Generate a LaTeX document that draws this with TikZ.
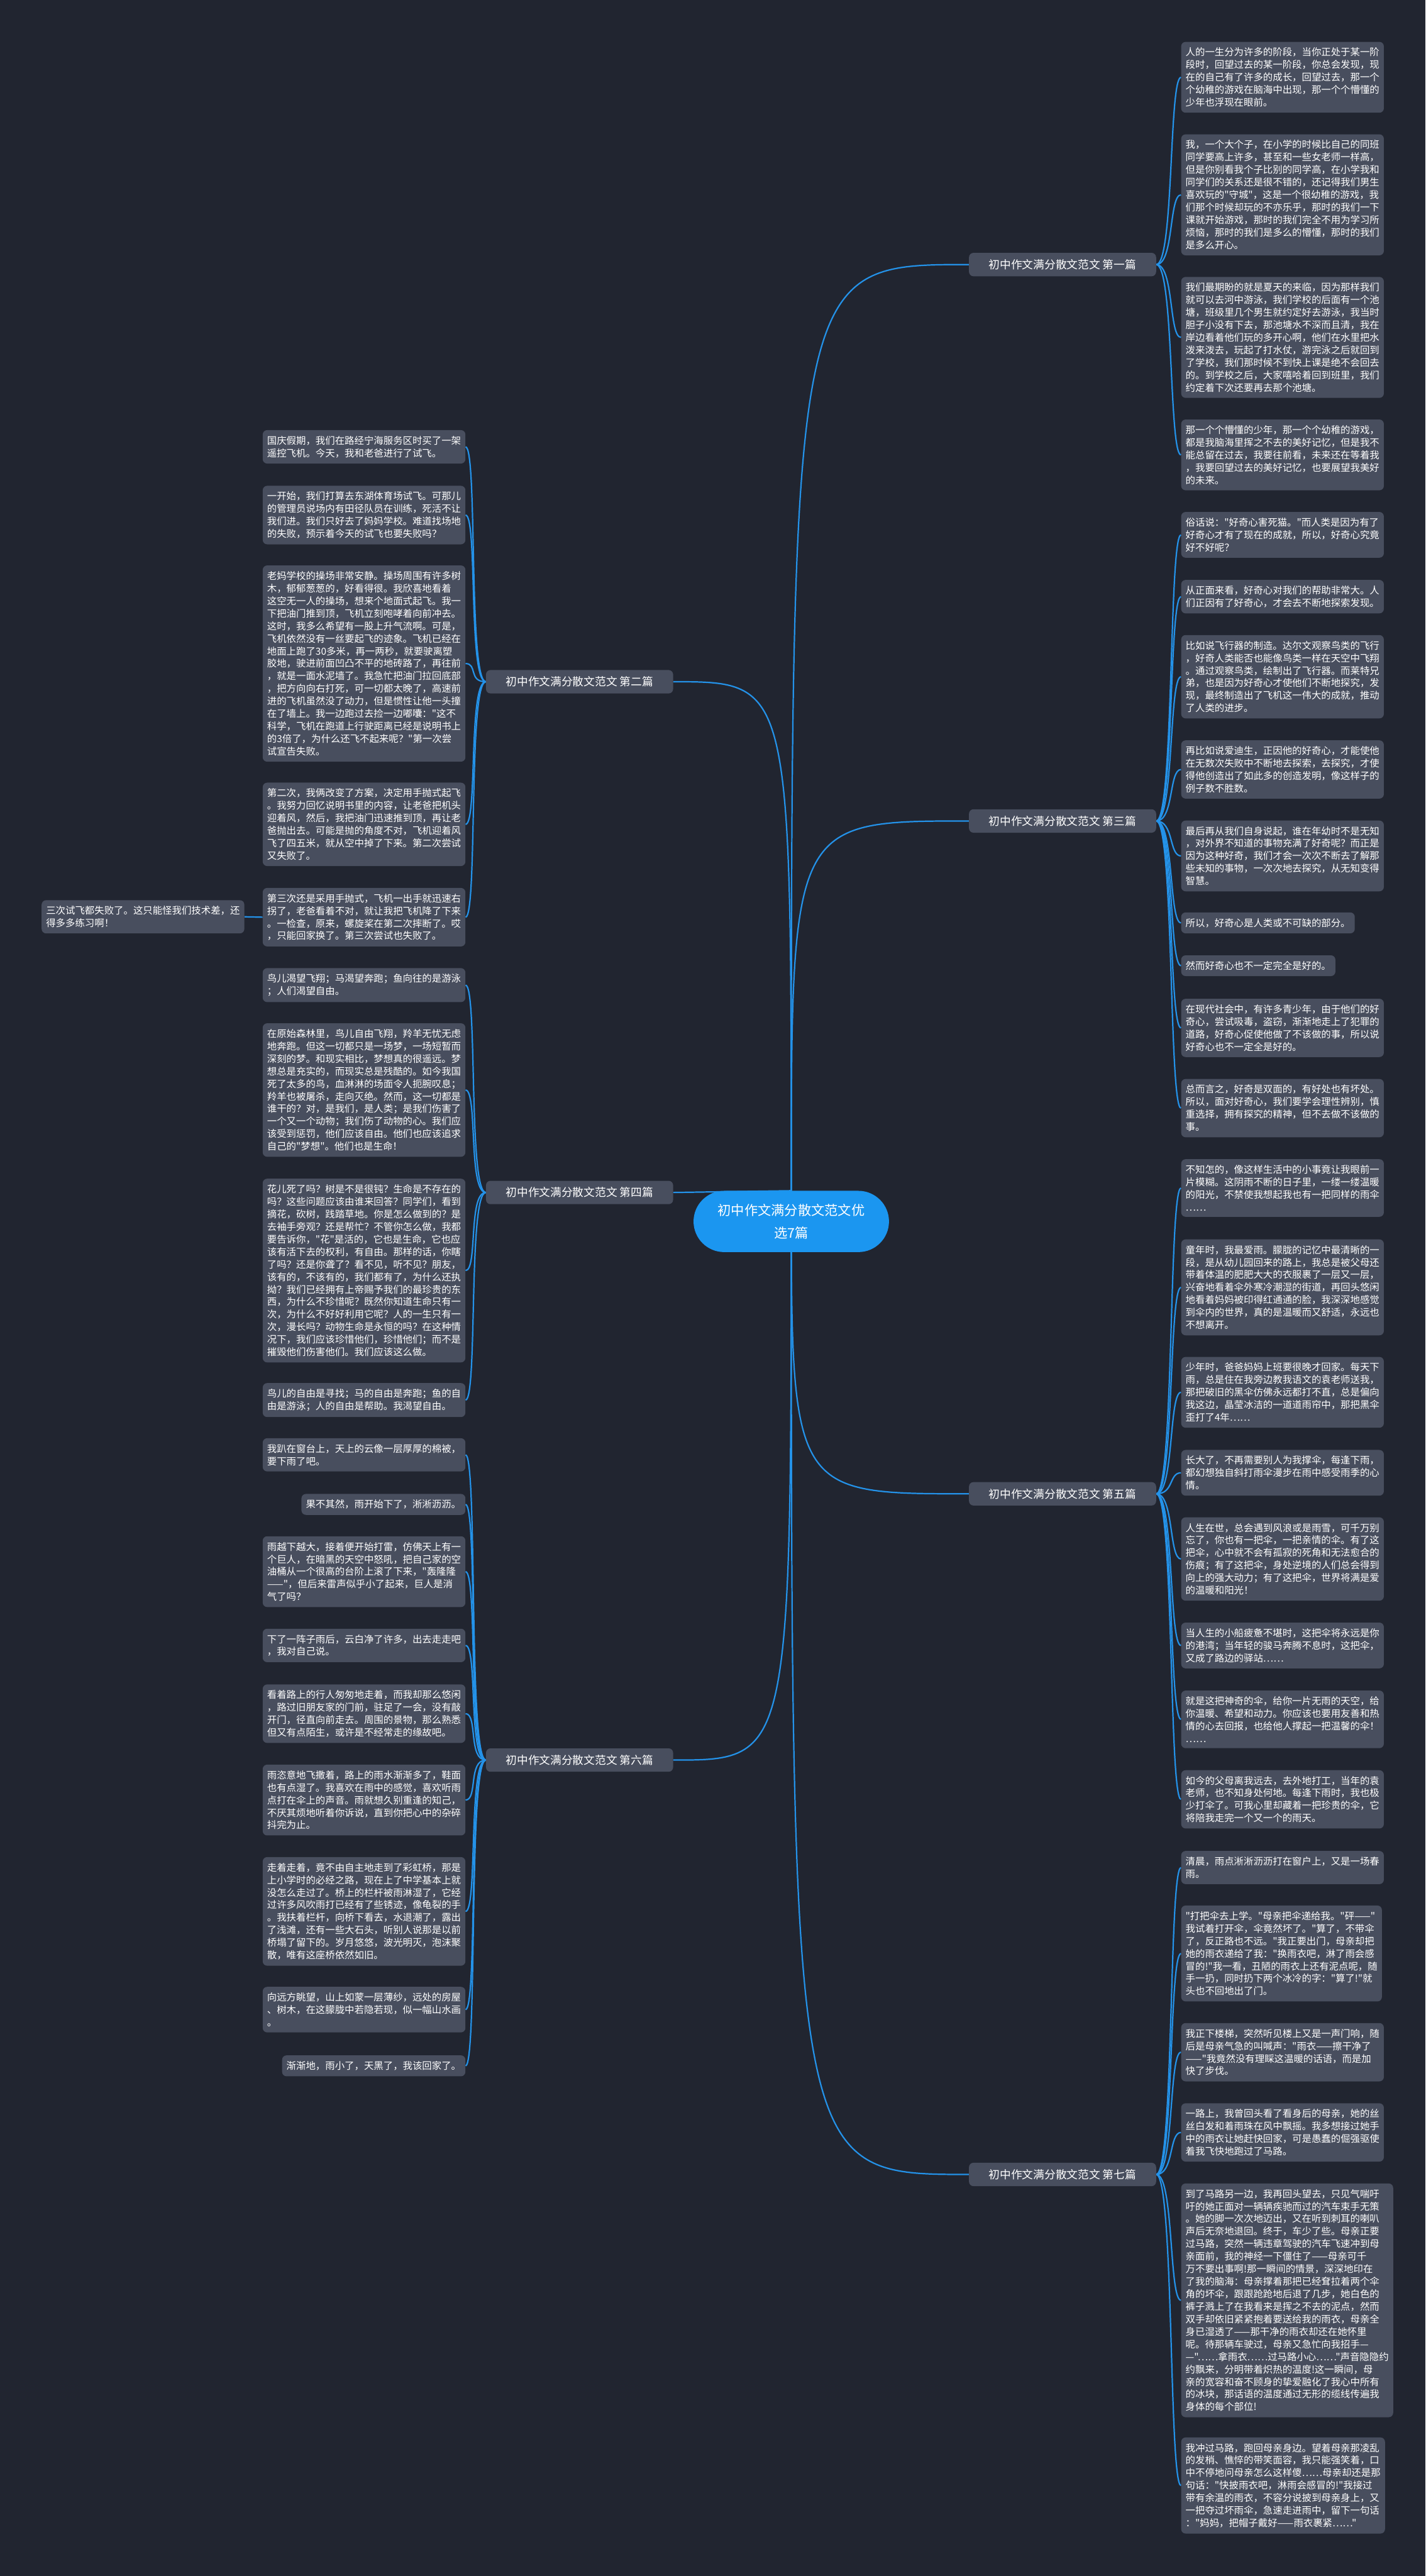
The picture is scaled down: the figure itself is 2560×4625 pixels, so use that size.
\documentclass[tikz,border=0pt]{standalone}
\usepackage{fontspec}
\newfontfamily\cjk{Noto Sans CJK SC}
\pgfdeclarelayer{bg}
\pgfsetlayers{bg,main}
\definecolor{bgcol}{RGB}{33,37,48}
\definecolor{boxcol}{RGB}{72,78,94}
\definecolor{linecol}{RGB}{36,146,232}
\definecolor{rootcol}{RGB}{27,150,240}
\begin{document}
\begin{tikzpicture}[x=1pt,y=-1pt,
leafr/.style={fill=boxcol,rounded corners=8pt,text=white,font=\cjk\fontsize{17.4}{22.5}\selectfont,align=left,inner xsep=8pt,inner ysep=10.5pt,anchor=north west},
leafl/.style={leafr,anchor=north east},
branchr/.style={fill=boxcol,rounded corners=8pt,text=white,font=\cjk\fontsize{20}{24}\selectfont,minimum width=336pt,minimum height=42pt,anchor=west},
branchl/.style={branchr,anchor=east},
root/.style={fill=rootcol,text=white,rounded corners=55pt,minimum width=351pt,minimum height=110pt,align=center,font=\cjk\fontsize{24}{40}\selectfont},
link/.style={draw=linecol,line width=2.5pt}]
\node (root) at (1421,2193)[root] {初中作文满分散文范文优\\选7篇};

\node (b1) at (1740,475)[branchr] {初中作文满分散文范文 第一篇};
\node (b3) at (1740,1474)[branchr] {初中作文满分散文范文 第三篇};
\node (b5) at (1740,2682)[branchr] {初中作文满分散文范文 第五篇};
\node (b7) at (1740,3904)[branchr] {初中作文满分散文范文 第七篇};
\node (b2) at (1209,1224)[branchl] {初中作文满分散文范文 第二篇};
\node (b4) at (1209,2141)[branchl] {初中作文满分散文范文 第四篇};
\node (b6) at (1209,3160)[branchl] {初中作文满分散文范文 第六篇};

\node (r1a) at (2121,75)[leafr] {人的一生分为许多的阶段，当你正处于某一阶\\段时，回望过去的某一阶段，你总会发现，现\\在的自己有了许多的成长，回望过去，那一个\\个幼稚的游戏在脑海中出现，那一个个懵懂的\\少年也浮现在眼前。};
\node (r1b) at (2121,241)[leafr] {我，一个大个子，在小学的时候比自己的同班\\同学要高上许多，甚至和一些女老师一样高，\\但是你别看我个子比别的同学高，在小学我和\\同学们的关系还是很不错的，还记得我们男生\\喜欢玩的"守城"，这是一个很幼稚的游戏，我\\们那个时候却玩的不亦乐乎，那时的我们一下\\课就开始游戏，那时的我们完全不用为学习所\\烦恼，那时的我们是多么的懵懂，那时的我们\\是多么开心。};
\node (r1c) at (2121,497)[leafr] {我们最期盼的就是夏天的来临，因为那样我们\\就可以去河中游泳，我们学校的后面有一个池\\塘，班级里几个男生就约定好去游泳，我当时\\胆子小没有下去，那池塘水不深而且清，我在\\岸边看着他们玩的多开心啊，他们在水里把水\\泼来泼去，玩起了打水仗，游完泳之后就回到\\了学校，我们那时候不到快上课是绝不会回去\\的。到学校之后，大家嘻哈着回到班里，我们\\约定着下次还要再去那个池塘。};
\node (r1d) at (2121,753)[leafr] {那一个个懵懂的少年，那一个个幼稚的游戏，\\都是我脑海里挥之不去的美好记忆，但是我不\\能总留在过去，我要往前看，未来还在等着我\\，我要回望过去的美好记忆，也要展望我美好\\的未来。};

\node (r3a) at (2121,919)[leafr] {俗话说："好奇心害死猫。"而人类是因为有了\\好奇心才有了现在的成就，所以，好奇心究竟\\好不好呢？};
\node (r3b) at (2121,1041)[leafr] {从正面来看，好奇心对我们的帮助非常大。人\\们正因有了好奇心，才会去不断地探索发现。};
\node (r3c) at (2121,1140)[leafr] {比如说飞行器的制造。达尔文观察鸟类的飞行\\，好奇人类能否也能像鸟类一样在天空中飞翔\\。通过观察鸟类，绘制出了飞行器。而莱特兄\\弟，也是因为好奇心才使他们不断地探究，发\\现，最终制造出了飞机这一伟大的成就，推动\\了人类的进步。};
\node (r3d) at (2121,1329)[leafr] {再比如说爱迪生，正因他的好奇心，才能使他\\在无数次失败中不断地去探索，去探究，才使\\得他创造出了如此多的创造发明，像这样子的\\例子数不胜数。};
\node (r3e) at (2121,1473)[leafr] {最后再从我们自身说起，谁在年幼时不是无知\\，对外界不知道的事物充满了好奇呢？而正是\\因为这种好奇，我们才会一次次不断去了解那\\些未知的事物，一次次地去探究，从无知变得\\智慧。};
\node (r3f) at (2121,1638)[leafr] {所以，好奇心是人类或不可缺的部分。};
\node (r3g) at (2121,1715)[leafr] {然而好奇心也不一定完全是好的。};
\node (r3h) at (2121,1793)[leafr] {在现代社会中，有许多青少年，由于他们的好\\奇心，尝试吸毒，盗窃，渐渐地走上了犯罪的\\道路，好奇心促使他做了不该做的事，所以说\\好奇心也不一定全是好的。};
\node (r3i) at (2121,1937)[leafr] {总而言之，好奇是双面的，有好处也有坏处。\\所以，面对好奇心，我们要学会理性辨别，慎\\重选择，拥有探究的精神，但不去做不该做的\\事。};

\node (r5a) at (2121,2081)[leafr] {不知怎的，像这样生活中的小事竟让我眼前一\\片模糊。这阴雨不断的日子里，一缕一缕温暖\\的阳光，不禁使我想起我也有一把同样的雨伞\\……};
\node (r5b) at (2121,2225)[leafr] {童年时，我最爱雨。朦胧的记忆中最清晰的一\\段，是从幼儿园回来的路上，我总是被父母还\\带着体温的肥肥大大的衣服裹了一层又一层，\\兴奋地看着伞外寒冷潮湿的街道，再回头悠闲\\地看着妈妈被印得红通通的脸，我深深地感觉\\到伞内的世界，真的是温暖而又舒适，永远也\\不想离开。};
\node (r5c) at (2121,2436)[leafr] {少年时，爸爸妈妈上班要很晚才回家。每天下\\雨，总是住在我旁边教我语文的袁老师送我，\\那把破旧的黑伞仿佛永远都打不直，总是偏向\\我这边，晶莹冰洁的一道道雨帘中，那把黑伞\\歪打了4年……};
\node (r5d) at (2121,2603)[leafr] {长大了，不再需要别人为我撑伞，每逢下雨，\\都幻想独自斜打雨伞漫步在雨中感受雨季的心\\情。};
\node (r5e) at (2121,2724)[leafr] {人生在世，总会遇到风浪或是雨雪，可千万别\\忘了，你也有一把伞，一把亲情的伞。有了这\\把伞，心中就不会有孤寂的死角和无法愈合的\\伤痕；有了这把伞，身处逆境的人们总会得到\\向上的强大动力；有了这把伞，世界将满是爱\\的温暖和阳光！};
\node (r5f) at (2121,2913)[leafr] {当人生的小船疲惫不堪时，这把伞将永远是你\\的港湾；当年轻的骏马奔腾不息时，这把伞，\\又成了路边的驿站……};
\node (r5g) at (2121,3035)[leafr] {就是这把神奇的伞，给你一片无雨的天空，给\\你温暖、希望和动力。你应该也要用友善和热\\情的心去回报，也给他人撑起一把温馨的伞！\\……};
\node (r5h) at (2121,3178)[leafr] {如今的父母离我远去，去外地打工，当年的袁\\老师，也不知身处何地。每逢下雨时，我也极\\少打伞了。可我心里却藏着一把珍贵的伞，它\\将陪我走完一个又一个的雨天。};

\node (r7a) at (2121,3323)[leafr] {清晨，雨点淅淅沥沥打在窗户上，又是一场春\\雨。};
\node (r7b) at (2121,3421)[leafr] {"打把伞去上学。"母亲把伞递给我。"砰——"\\我试着打开伞，伞竟然坏了。"算了，不带伞\\了，反正路也不远。"我正要出门，母亲却把\\她的雨衣递给了我："换雨衣吧，淋了雨会感\\冒的!"我一看，丑陋的雨衣上还有泥点呢，随\\手一扔，同时扔下两个冰冷的字："算了!"就\\头也不回地出了门。};
\node (r7c) at (2121,3632)[leafr] {我正下楼梯，突然听见楼上又是一声门响，随\\后是母亲气急的叫喊声："雨衣——擦干净了\\——"我竟然没有理睬这温暖的话语，而是加\\快了步伐。};
\node (r7d) at (2121,3776)[leafr] {一路上，我曾回头看了看身后的母亲，她的丝\\丝白发和着雨珠在风中飘摇。我多想接过她手\\中的雨衣让她赶快回家，可是愚蠢的倔强驱使\\着我飞快地跑过了马路。};
\node (r7e) at (2121,3920)[leafr] {到了马路另一边，我再回头望去，只见气喘吁\\吁的她正面对一辆辆疾驰而过的汽车束手无策\\。她的脚一次次地迈出，又在听到刺耳的喇叭\\声后无奈地退回。终于，车少了些。母亲正要\\过马路，突然一辆违章驾驶的汽车飞速冲到母\\亲面前，我的神经一下僵住了——母亲可千\\万不要出事啊!那一瞬间的情景，深深地印在\\了我的脑海：母亲撑着那把已经耷拉着两个伞\\角的坏伞，跟跟跄跄地后退了几步，她白色的\\裤子溅上了在我看来是挥之不去的泥点，然而\\双手却依旧紧紧抱着要送给我的雨衣，母亲全\\身已湿透了——那干净的雨衣却还在她怀里\\呢。待那辆车驶过，母亲又急忙向我招手—\\—"……拿雨衣……过马路小心……"声音隐隐约\\约飘来，分明带着炽热的温度!这一瞬间，母\\亲的宽容和奋不顾身的挚爱融化了我心中所有\\的冰块，那话语的温度通过无形的缆线传遍我\\身体的每个部位!};
\node (r7f) at (2121,4376)[leafr] {我冲过马路，跑回母亲身边。望着母亲那凌乱\\的发梢、憔悴的带笑面容，我只能强笑着，口\\中不停地问母亲怎么这样傻……母亲却还是那\\句话："快披雨衣吧，淋雨会感冒的!"我接过\\带有余温的雨衣，不容分说披到母亲身上，又\\一把夺过坏雨伞，急速走进雨中，留下一句话\\："妈妈，把帽子戴好——雨衣裹紧……"};

\node (l2a) at (836,772)[leafl] {国庆假期，我们在路经宁海服务区时买了一架\\遥控飞机。今天，我和老爸进行了试飞。};
\node (l2b) at (836,872)[leafl] {一开始，我们打算去东湖体育场试飞。可那儿\\的管理员说场内有田径队员在训练，死活不让\\我们进。我们只好去了妈妈学校。难道找场地\\的失败，预示着今天的试飞也要失败吗？};
\node (l2c) at (836,1015)[leafl] {老妈学校的操场非常安静。操场周围有许多树\\木，郁郁葱葱的，好看得很。我欣喜地看着\\这空无一人的操场，想来个地面式起飞。我一\\下把油门推到顶，飞机立刻咆哮着向前冲去。\\这时，我多么希望有一股上升气流啊。可是，\\飞机依然没有一丝要起飞的迹象。飞机已经在\\地面上跑了30多米，再一两秒，就要驶离塑\\胶地，驶进前面凹凸不平的地砖路了，再往前\\，就是一面水泥墙了。我急忙把油门拉回底部\\，把方向向右打死，可一切都太晚了，高速前\\进的飞机虽然没了动力，但是惯性让他一头撞\\在了墙上。我一边跑过去捡一边嘟囔："这不\\科学，飞机在跑道上行驶距离已经是说明书上\\的3倍了，为什么还飞不起来呢？"第一次尝\\试宣告失败。};
\node (l2d) at (836,1405)[leafl] {第二次，我俩改变了方案，决定用手抛式起飞\\。我努力回忆说明书里的内容，让老爸把机头\\迎着风，然后，我把油门迅速推到顶，再让老\\爸抛出去。可能是抛的角度不对，飞机迎着风\\飞了四五米，就从空中掉了下来。第二次尝试\\又失败了。};
\node (l2e) at (836,1594)[leafl] {第三次还是采用手抛式，飞机一出手就迅速右\\拐了，老爸看着不对，就让我把飞机降了下来\\。一检查，原来，螺旋桨在第二次摔断了。哎\\，只能回家换了。第三次尝试也失败了。};
\node (l2f) at (439,1616)[leafl] {三次试飞都失败了。这只能怪我们技术差，还\\得多多练习啊！};

\node (l4a) at (836,1738)[leafl] {鸟儿渴望飞翔；马渴望奔跑；鱼向往的是游泳\\；人们渴望自由。};
\node (l4b) at (836,1837)[leafl] {在原始森林里，鸟儿自由飞翔，羚羊无忧无虑\\地奔跑。但这一切都只是一场梦，一场短暂而\\深刻的梦。和现实相比，梦想真的很遥远。梦\\想总是充实的，而现实总是残酷的。如今我国\\死了太多的鸟，血淋淋的场面令人扼腕叹息；\\羚羊也被屠杀，走向灭绝。然而，这一切都是\\谁干的？对，是我们，是人类；是我们伤害了\\一个又一个动物；我们伤了动物的心。我们应\\该受到惩罚，他们应该自由。他们也应该追求\\自己的"梦想"。他们也是生命！};
\node (l4c) at (836,2116)[leafl] {花儿死了吗？树是不是很钝？生命是不存在的\\吗？这些问题应该由谁来回答？同学们，看到\\摘花，砍树，践踏草地。你是怎么做到的？是\\去袖手旁观？还是帮忙？不管你怎么做，我都\\要告诉你，"花"是活的，它也是生命，它也应\\该有活下去的权利，有自由。那样的话，你瞎\\了吗？还是你聋了？看不见，听不见？朋友，\\该有的，不该有的，我们都有了，为什么还执\\拗？我们已经拥有上帝赐予我们的最珍贵的东\\西，为什么不珍惜呢？既然你知道生命只有一\\次，为什么不好好利用它呢？人的一生只有一\\次，漫长吗？动物生命是永恒的吗？在这种情\\况下，我们应该珍惜他们，珍惜他们；而不是\\摧毁他们伤害他们。我们应该这么做。};
\node (l4d) at (836,2483)[leafl] {鸟儿的自由是寻找；马的自由是奔跑；鱼的自\\由是游泳；人的自由是帮助。我渴望自由。};

\node (l6a) at (836,2582)[leafl] {我趴在窗台上，天上的云像一层厚厚的棉被，\\要下雨了吧。};
\node (l6b) at (836,2682)[leafl] {果不其然，雨开始下了，淅淅沥沥。};
\node (l6c) at (836,2758)[leafl] {雨越下越大，接着便开始打雷，仿佛天上有一\\个巨人，在暗黑的天空中怒吼，把自己家的空\\油桶从一个很高的台阶上滚了下来，"轰隆隆\\——"，但后来雷声似乎小了起来，巨人是消\\气了吗？};
\node (l6d) at (836,2924)[leafl] {下了一阵子雨后，云白净了许多，出去走走吧\\，我对自己说。};
\node (l6e) at (836,3024)[leafl] {看着路上的行人匆匆地走着，而我却那么悠闲\\，路过旧朋友家的门前，驻足了一会，没有敲\\开门，径直向前走去。周围的景物，那么熟悉\\但又有点陌生，或许是不经常走的缘故吧。};
\node (l6f) at (836,3168)[leafl] {雨恣意地飞撒着，路上的雨水渐渐多了，鞋面\\也有点湿了。我喜欢在雨中的感觉，喜欢听雨\\点打在伞上的声音。雨就想久别重逢的知己，\\不厌其烦地听着你诉说，直到你把心中的杂碎\\抖完为止。};
\node (l6g) at (836,3334)[leafl] {走着走着，竟不由自主地走到了彩虹桥，那是\\上小学时的必经之路，现在上了中学基本上就\\没怎么走过了。桥上的栏杆被雨淋湿了，它经\\过许多风吹雨打已经有了些锈迹，像龟裂的手\\。我扶着栏杆，向桥下看去，水退潮了，露出\\了浅滩，还有一些大石头，听别人说那是以前\\桥塌了留下的。岁月悠悠，波光明灭，泡沫聚\\散，唯有这座桥依然如旧。};
\node (l6h) at (836,3567)[leafl] {向远方眺望，山上如蒙一层薄纱，远处的房屋\\、树木，在这朦胧中若隐若现，似一幅山水画\\。};
\node (l6i) at (836,3690)[leafl] {渐渐地，雨小了，天黑了，我该回家了。};

\begin{pgfonlayer}{bg}
\fill[bgcol] (0,0) rectangle (2560,4625);
\draw[link] (root.north) .. controls (root.north |- b1.west) and (root.north |- b1.west) .. (b1.west);
\draw[link] (root.north) .. controls (root.north |- b3.west) and (root.north |- b3.west) .. (b3.west);
\draw[link] (root.north) .. controls (root.north |- b5.west) and (root.north |- b5.west) .. (b5.west);
\draw[link] (root.north) .. controls (root.north |- b7.west) and (root.north |- b7.west) .. (b7.west);
\draw[link] (root.north) .. controls (root.north |- b2.east) and (root.north |- b2.east) .. (b2.east);
\draw[link] (root.north) -- (b4.east);
\draw[link] (root.north) .. controls (root.north |- b6.east) and (root.north |- b6.east) .. (b6.east);

\draw[link] (b1.east) .. controls +(32,0) and +(-22,0) .. (r1a.west);
\draw[link] (b1.east) .. controls +(32,0) and +(-22,0) .. (r1b.west);
\draw[link] (b1.east) .. controls +(32,0) and +(-22,0) .. (r1c.west);
\draw[link] (b1.east) .. controls +(32,0) and +(-22,0) .. (r1d.west);
\draw[link] (b3.east) .. controls +(32,0) and +(-22,0) .. (r3a.west);
\draw[link] (b3.east) .. controls +(32,0) and +(-22,0) .. (r3b.west);
\draw[link] (b3.east) .. controls +(32,0) and +(-22,0) .. (r3c.west);
\draw[link] (b3.east) .. controls +(32,0) and +(-22,0) .. (r3d.west);
\draw[link] (b3.east) .. controls +(32,0) and +(-22,0) .. (r3e.west);
\draw[link] (b3.east) .. controls +(32,0) and +(-22,0) .. (r3f.west);
\draw[link] (b3.east) .. controls +(32,0) and +(-22,0) .. (r3g.west);
\draw[link] (b3.east) .. controls +(32,0) and +(-22,0) .. (r3h.west);
\draw[link] (b3.east) .. controls +(32,0) and +(-22,0) .. (r3i.west);
\draw[link] (b5.east) .. controls +(32,0) and +(-22,0) .. (r5a.west);
\draw[link] (b5.east) .. controls +(32,0) and +(-22,0) .. (r5b.west);
\draw[link] (b5.east) .. controls +(32,0) and +(-22,0) .. (r5c.west);
\draw[link] (b5.east) .. controls +(32,0) and +(-22,0) .. (r5d.west);
\draw[link] (b5.east) .. controls +(32,0) and +(-22,0) .. (r5e.west);
\draw[link] (b5.east) .. controls +(32,0) and +(-22,0) .. (r5f.west);
\draw[link] (b5.east) .. controls +(32,0) and +(-22,0) .. (r5g.west);
\draw[link] (b5.east) .. controls +(32,0) and +(-22,0) .. (r5h.west);
\draw[link] (b7.east) .. controls +(32,0) and +(-22,0) .. (r7a.west);
\draw[link] (b7.east) .. controls +(32,0) and +(-22,0) .. (r7b.west);
\draw[link] (b7.east) .. controls +(32,0) and +(-22,0) .. (r7c.west);
\draw[link] (b7.east) .. controls +(32,0) and +(-22,0) .. (r7d.west);
\draw[link] (b7.east) .. controls +(32,0) and +(-22,0) .. (r7e.west);
\draw[link] (b7.east) .. controls +(32,0) and +(-22,0) .. (r7f.west);

\draw[link] (b2.west) .. controls +(-32,0) and +(22,0) .. (l2a.east);
\draw[link] (b2.west) .. controls +(-32,0) and +(22,0) .. (l2b.east);
\draw[link] (b2.west) .. controls +(-32,0) and +(22,0) .. (l2c.east);
\draw[link] (b2.west) .. controls +(-32,0) and +(22,0) .. (l2d.east);
\draw[link] (b2.west) .. controls +(-32,0) and +(22,0) .. (l2e.east);
\draw[link] (l2e.west) -- (l2f.east);
\draw[link] (b4.west) .. controls +(-32,0) and +(22,0) .. (l4a.east);
\draw[link] (b4.west) .. controls +(-32,0) and +(22,0) .. (l4b.east);
\draw[link] (b4.west) .. controls +(-32,0) and +(22,0) .. (l4c.east);
\draw[link] (b4.west) .. controls +(-32,0) and +(22,0) .. (l4d.east);
\draw[link] (b6.west) .. controls +(-32,0) and +(22,0) .. (l6a.east);
\draw[link] (b6.west) .. controls +(-32,0) and +(22,0) .. (l6b.east);
\draw[link] (b6.west) .. controls +(-32,0) and +(22,0) .. (l6c.east);
\draw[link] (b6.west) .. controls +(-32,0) and +(22,0) .. (l6d.east);
\draw[link] (b6.west) .. controls +(-32,0) and +(22,0) .. (l6e.east);
\draw[link] (b6.west) .. controls +(-32,0) and +(22,0) .. (l6f.east);
\draw[link] (b6.west) .. controls +(-32,0) and +(22,0) .. (l6g.east);
\draw[link] (b6.west) .. controls +(-32,0) and +(22,0) .. (l6h.east);
\draw[link] (b6.west) .. controls +(-32,0) and +(22,0) .. (l6i.east);
\end{pgfonlayer}
\end{tikzpicture}
\end{document}
